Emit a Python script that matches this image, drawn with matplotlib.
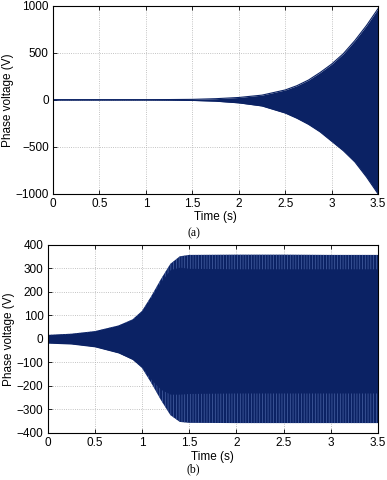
import matplotlib
matplotlib.use("Agg")
import matplotlib.pyplot as plt

# (a) growing oscillation - envelope
time_a = [0, 0.5, 1.0, 1.25, 1.5, 1.75, 2.0, 2.25, 2.5, 2.625, 2.75, 2.875,
          3.0, 3.125, 3.25, 3.375, 3.5]
upper_a = [2, 2, 2, 3, 5, 12, 25, 50, 105, 150, 210, 290,
           380, 490, 630, 790, 970]
lower_a = [-2, -2, -2, -3, -6, -14, -32, -65, -140, -195, -260, -340,
           -440, -540, -660, -820, -1000]

# (b) oscillation settling at ~357 V
time_b = [0, 0.25, 0.5, 0.75, 0.9, 1.0, 1.1, 1.2, 1.3, 1.4, 1.5, 2.0, 2.5, 3.0, 3.5]
upper_b = [17, 22, 33, 57, 83, 119, 183, 254, 319, 351, 357, 358, 358, 357, 357]
lower_b = [-18, -22, -34, -60, -88, -124, -189, -260, -324, -353, -357, -358, -358, -358, -358]
# dense (dark) core of the signal, the rest is striped
core_up_b = [17, 22, 33, 57, 83, 119, 180, 245, 295, 305, 300, 298, 298, 298, 298]
core_lo_b = [-18, -22, -34, -60, -88, -120, -175, -215, -235, -235, -232, -230, -230, -230, -230]

xticks = [0, 0.5, 1, 1.5, 2, 2.5, 3, 3.5]
xticklabels = ["0", "0.5", "1", "1.5", "2", "2.5", "3", "3.5"]
yticks_a = [-1000, -500, 0, 500, 1000]
yticks_b = [-400, -300, -200, -100, 0, 100, 200, 300, 400]

navy = "#0b2264"
stripe = "#4a64a6"

plt.rcParams["font.family"] = "Liberation Sans"
plt.rcParams["font.size"] = 8.5
plt.rcParams["hatch.linewidth"] = 0.5

fig = plt.figure(figsize=(3.87, 4.8), dpi=100)
ax1 = fig.add_axes([0.137, 0.596, 0.84, 0.392])
ax2 = fig.add_axes([0.123, 0.098, 0.854, 0.392])


def style(ax, yticks):
    ax.set_xlim(0, 3.5)
    ax.set_xticks(xticks)
    ax.set_xticklabels(xticklabels)
    ax.set_yticks(yticks)
    ax.set_ylim(yticks[0], yticks[-1])
    ax.grid(True, linestyle=":", color="#b0b0b0", linewidth=0.6)
    ax.tick_params(direction="in", top=True, right=True, length=3, width=0.6, pad=3)
    for s in ax.spines.values():
        s.set_linewidth(0.8)
    ax.set_xlabel("Time (s)", labelpad=1)
    ax.set_ylabel("Phase voltage (V)", labelpad=1)
    ax.set_axisbelow(True)


# (a)
ax1.fill_between(time_a, lower_a, upper_a, color=navy, linewidth=0)
ax1.plot(time_a, upper_a, color=navy, linewidth=0.8)
ax1.plot(time_a, lower_a, color=navy, linewidth=0.8)
style(ax1, yticks_a)

# (b)
ax2.fill_between(time_b, lower_b, upper_b, facecolor=navy, edgecolor=stripe,
                 hatch="||||||", linewidth=0)
ax2.fill_between(time_b, core_lo_b, core_up_b, color=navy, linewidth=0)
style(ax2, yticks_b)

fig.text(0.50, 0.515, "(a)", family="Liberation Serif", fontsize=8.5, ha="center", va="center")
fig.text(0.50, 0.023, "(b)", family="Liberation Serif", fontsize=8.5, ha="center", va="center")

fig.savefig("out.png", dpi=100)
